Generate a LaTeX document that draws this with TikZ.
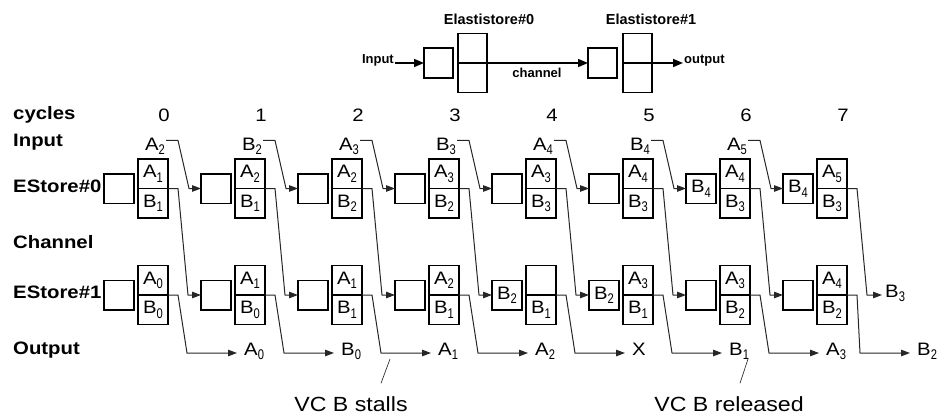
\documentclass[tikz,border=0pt]{standalone}
\usepackage{fontspec}
\setmainfont{Liberation Sans}
\newfontfamily\widesf[FakeStretch=1.13]{Liberation Sans}
\newfontfamily\subsf[FakeStretch=0.8]{Liberation Sans}
\usetikzlibrary{arrows.meta,positioning}

\newcommand\vc[2]{#1\raisebox{-4.5pt}{\subsf\fontsize{14}{14}\selectfont #2}}

\begin{document}
\begin{tikzpicture}[x=1pt,y=-1pt,node distance=0pt]
       \tikzstyle{cell}=[draw,line width=1.5pt,minimum width=30pt,minimum height=29.5pt,inner sep=0pt,outer sep=0pt,text height=13pt,text depth=5pt,font=\widesf\fontsize{18}{18}\selectfont]
       \tikzstyle{topbox}=[draw,line width=1.6pt,minimum width=29pt,minimum height=29.5pt,inner sep=0pt,outer sep=0pt]
       \tikzstyle{rowlab}=[anchor=base west,inner sep=0pt,font=\widesf\bfseries\fontsize{18}{18}\selectfont]
       \tikzstyle{lab}=[inner sep=1pt,font=\widesf\fontsize{18}{18}\selectfont]
       \tikzstyle{outlab}=[lab,anchor=west,text height=13pt,text depth=9pt]
       \tikzstyle{toplab}=[inner sep=1pt,font=\bfseries\fontsize{13}{13}\selectfont]
       \tikzstyle{flow}=[-{Triangle[length=9pt,width=6.5pt]},line width=1pt,draw=black!85]
       \tikzstyle{bigflow}=[-{Triangle[length=10pt,width=8pt]},line width=1.5pt]
       \tikzstyle{note}=[inner sep=1pt,font=\widesf\fontsize{20.5}{20.5}\selectfont]

       \useasboundingbox (0,0) rectangle (940,415);

       \node[toplab,anchor=base east] (tin) at (395,63) {Input};
       \node[topbox] (e0a) at (438.5,63) {};
       \node[topbox] (e0t) at (472.5,48.25) {};
       \node[topbox,below=of e0t] (e0b) {};
       \node[toplab,font=\bfseries\fontsize{14.5}{14.5}\selectfont] (el0) at (489,19) {Elastistore\#0};
       \node[toplab] (chl) at (537,73) {channel};
       \node[topbox] (e1a) at (602.5,63) {};
       \node[topbox] (e1t) at (637.5,48.25) {};
       \node[topbox,below=of e1t] (e1b) {};
       \node[toplab,font=\bfseries\fontsize{14.5}{14.5}\selectfont] (el1) at (651,19) {Elastistore\#1};
       \node[toplab,anchor=base west] (tout) at (683,63) {output};
       \draw[bigflow] (tin.base east) -- (e0a.west);
       \draw[bigflow] (e0t.south west) -- (e1a.west);
       \draw[bigflow] (e1t.south west) -- (tout.base west);

       \node[rowlab] (lcyc) at (13,119) {cycles};
       \node[rowlab] (lin)  at (13,146) {Input};
       \node[rowlab] (les0) at (13,192) {EStore\#0};
       \node[rowlab] (lch)  at (13,248) {Channel};
       \node[rowlab] (les1) at (13,298) {EStore\#1};
       \node[rowlab] (lout) at (13,354) {Output};

       \foreach \k/\auxa/\topa/\bota/\auxb/\topb/\botb/\outp/\ox in {
         0/{}/{\vc A1}/{\vc B1}/{}/{\vc A0}/{\vc B0}/{\vc A0}/243,
         1/{}/{\vc A2}/{\vc B1}/{}/{\vc A1}/{\vc B0}/{\vc B0}/340,
         2/{}/{\vc A2}/{\vc B2}/{}/{\vc A1}/{\vc B1}/{\vc A1}/437,
         3/{}/{\vc A3}/{\vc B2}/{}/{\vc A2}/{\vc B1}/{\vc A2}/534,
         4/{}/{\vc A3}/{\vc B3}/{\vc B2}/{}/{\vc B1}/X/631,
         5/{}/{\vc A4}/{\vc B3}/{\vc B2}/{\vc A3}/{\vc B1}/{\vc B1}/728,
         6/{\vc B4}/{\vc A4}/{\vc B3}/{}/{\vc A3}/{\vc B2}/{\vc A3}/825,
         7/{\vc B4}/{\vc A5}/{\vc B3}/{}/{\vc A4}/{\vc B2}/{\vc B2}/916} {
         \node[lab,anchor=base] (cy\k) at ({164+97*\k},121) {\k};
         \node[cell] (t0\k) at ({153+97*\k},173.75) {\topa};
         \node[cell,below=of t0\k] (b0\k) {\bota};
         \node[cell,anchor=east] (a0\k) at ([xshift=-4pt]t0\k.south west) {\auxa};
         \node[cell] (t1\k) at ({153+97*\k},280.25) {\topb};
         \node[cell,below=of t1\k] (b1\k) {\botb};
         \node[cell,anchor=east] (a1\k) at ([xshift=-4pt]t1\k.south west) {\auxb};
         \node[outlab] (o\k) at (\ox,353) {\outp};
         \draw[flow,shorten >=6pt] (t1\k.south east) -- ++(10,0) -- ([xshift=-56pt]o\k.west) -- (o\k.west);
       }

       \foreach \k/\inp in {0/{\vc A2},1/{\vc B2},2/{\vc A3},3/{\vc B3},4/{\vc A4},5/{\vc B4},6/{\vc A5}} {
         \node[lab,anchor=base east] (in\k) at ({166+97*\k},150) {\inp};
       }
       \foreach \k [evaluate=\k as \n using int(\k+1)] in {0,...,6} {
         \draw[flow] ([yshift=-4pt]in\k.north east) -- ++(12,0) -- ([xshift=-12pt]a0\n.west) -- (a0\n.west);
         \draw[flow] (t0\k.south east) -- ++(10,0) -- ([xshift=-13pt]a1\n.west) -- (a1\n.west);
       }

       \node[outlab] (b3) at (884,295) {\vc B3};
       \draw[flow,shorten >=2pt] (t07.south east) -- ++(10,0) -- ([xshift=-17pt]b3.west) -- (b3.west);

       \node[note] (stall) at (351,404) {VC B stalls};
       \node[note] (rel) at (729,404) {VC B released};
       \coordinate (stallpt) at (390,359);
       \coordinate (relpt) at (748,359);
       \draw[line width=0.7pt,black!80] ([xshift=30pt,yshift=12pt]stall.north) -- (stallpt);
       \draw[line width=0.7pt,black!80] ([xshift=11pt,yshift=12pt]rel.north) -- (relpt);
\end{tikzpicture}
\end{document}
